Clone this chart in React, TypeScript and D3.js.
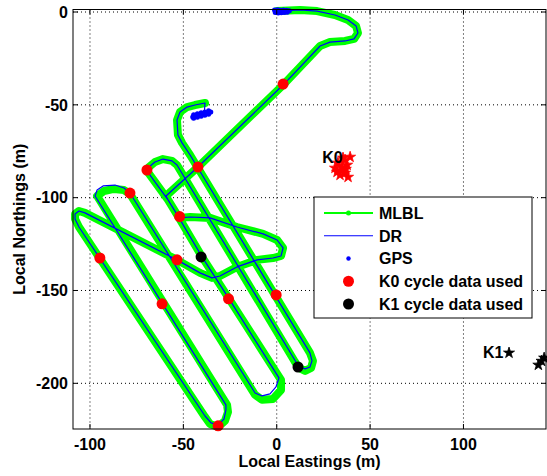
import * as d3 from "d3";

// MLBL navigation track, local eastings / northings (m)
const mlblEast = [-38.4, -43.8, -48.0, -51.8, -53.4, -52.9, -50.7, -46.4, 17.8, 19.4, 18.4, 15.2, 11.9, 9.8,
  -51.8, -53.4, -56.1, -60.9, -65.2, -68.4, -69.5, -58.2, -52.3, -46.4, -35.7, -21.3, -7.3, 0.2, 3.4, 2.3,
  -2.0, -10.5, -21.3, -30.4, -34.7, -41.1, -53.4, -102.7, -105.9, -108.0, -108.0, -105.9, -38.4, -35.7,
  -31.4, -27.7, -26.1, -26.6, -96.2, -92.5, -87.1, -81.8, -78.6, -11.6, -7.9, -2.0, 2.3, 2.3, -25.5,
  -40.0, -52.3, -58.2, -59.3, -42.2, 3.9, 23.2, 28.5, 36.6, 41.4, 43.5, 42.5, 38.2, 31.2, 21.6, 12.5, 0.2];
const mlblNorth = [-49.0, -50.1, -51.2, -53.9, -58.2, -66.2, -70.5, -77.0, -183.6, -187.9, -191.7, -193.3, -191.7, -188.5,
  -85.1, -82.4, -80.2, -79.2, -80.8, -83.5, -85.6, -101.2, -110.9, -110.4, -110.9, -115.8, -119.5, -122.8, -127.1, -131.4,
  -132.5, -133.5, -137.3, -142.2, -143.2, -140.5, -133.5, -108.2, -107.2, -108.8, -111.5, -115.8, -218.1, -221.9,
  -223.5, -220.2, -215.4, -211.6, -99.1, -96.4, -95.3, -95.9, -98.0, -206.2, -208.9, -208.4, -203.6, -198.2, -154.5,
  -131.9, -110.9, -101.2, -99.1, -83.5, -38.8, -18.3, -16.2, -15.6, -14.5, -11.3, -7.5, -4.3, -1.6, 0.5, 1.1, 0.5];

// dead reckoning track
const drEast = [-38.9, -38.4, -43.8, -48.0, -51.8, -53.4, -52.9, -50.7, -46.4, 17.8, 18.9, 17.8, 15.2, 12.5, 10.3,
  -51.8, -53.4, -56.1, -60.9, -65.2, -68.4, -69.5, -58.2, -52.3, -46.4, -35.7, -21.3, -7.3, 0.2, 3.4, 2.3,
  -2.0, -10.5, -21.3, -30.4, -34.7, -41.1, -53.4, -102.7, -105.9, -108.0, -108.0, -105.9, -38.4, -35.2,
  -31.4, -28.2, -27.2, -27.2, -97.3, -96.2, -93.0, -86.6, -81.8, -78.6, -11.6, -7.9, -3.6, -0.4, 1.2, -25.5,
  -40.0, -52.3, -58.2, -59.3, -42.2, 3.9, 23.2, 28.5, 36.6, 41.4, 43.5, 42.5, 38.2, 31.2, 21.6, 12.5, 0.2];
const drNorth = [-56.0, -49.0, -50.1, -51.2, -53.9, -58.2, -66.2, -70.5, -77.0, -183.6, -187.9, -191.2, -192.2, -191.2, -188.5,
  -85.1, -82.4, -80.2, -79.2, -80.8, -83.5, -85.6, -101.2, -110.9, -110.4, -110.9, -115.8, -119.5, -122.8, -127.1, -131.4,
  -132.5, -133.5, -137.3, -142.2, -143.2, -140.5, -133.5, -108.2, -107.2, -108.8, -111.5, -115.8, -217.6, -221.3,
  -222.4, -219.2, -214.3, -211.6, -99.1, -95.9, -93.7, -93.2, -94.8, -97.5, -205.2, -206.8, -205.7, -201.9, -197.1, -154.5,
  -131.9, -110.9, -101.2, -99.1, -83.5, -38.8, -18.3, -16.2, -15.6, -14.5, -11.3, -7.5, -4.3, -1.6, 0.5, 1.1, 0.5];

// GPS fixes (surface, start and end)
const gpsEast = [-1.2, -0.4, 0.4, 1.2, 2.0, 2.8, 3.6, 4.4, 5.2, 6.0, 6.8,
  -0.8, 0.0, 0.8, 1.6, 2.4, 3.2, 4.0, 4.8, 5.6,
  -45.0, -44.0, -43.0, -42.0, -41.0, -40.0, -39.0, -38.0, -37.0, -36.0, -35.3,
  -44.5, -42.5, -40.5, -38.5, -36.5, -44.5, -42.5, -40.5, -38.5, -36.5];
const gpsNorth = [1.1, 0.8, 1.2, 0.9, 1.0, 0.7, 1.1, 0.8, 0.9, 0.6, 0.7,
  -0.3, 0.1, -0.5, 0.0, -0.4, 0.2, -0.2, 0.1, -0.1,
  -56.5, -56.3, -56.0, -55.7, -55.4, -55.2, -54.9, -54.6, -54.4, -54.1, -53.9,
  -55.4, -54.8, -54.3, -53.8, -53.2, -57.2, -56.7, -56.2, -55.6, -55.1];

// fixes where K0 / K1 cycle data was used
const k0UsedEast = [3.4, -42.2, -69.5, -78.6, -52.0, -94.7, -53.4, -61.4, -25.8, -0.3, -31.4];
const k0UsedNorth = [-38.8, -83.5, -85.1, -97.5, -110.2, -132.5, -133.5, -157.2, -154.5, -152.4, -222.9];
const k1UsedEast = [-40.5, 11.4];
const k1UsedNorth = [-131.9, -191.2];

// beacon position estimates
const k0StarEast = [39.3, 36.6, 32.8, 31.2, 35.0, 36.6, 33.9, 38.2, 32.3, 37.7, 35.5, 34.2, 37.0];
const k0StarNorth = [-78.1, -79.7, -81.3, -84.0, -83.5, -86.7, -87.8, -88.9, -86.2, -82.4, -78.6, -85.2, -84.6];
const k1StarEast = [124.4, 140.1, 143.2, 141.8];
const k1StarNorth = [-183.6, -190.1, -186.3, -188.0];

const xTicks = [-100, -50, 0, 50, 100];
const yTicks = [0, -50, -100, -150, -200];
const legendLabels = ["MLBL", "DR", "GPS", "K0 cycle data used", "K1 cycle data used"];

const font = "'Liberation Sans', Arial, sans-serif";

export default function App() {
  const x = d3.scaleLinear().domain([-109.1, 144.2]).range([73, 546]);
  const y = d3.scaleLinear().domain([-224.6, 1.35]).range([429, 9.5]);
  const [x0, x1] = x.range();
  const [y0, y1] = y.range();

  const zip = (a: number[], b: number[]) => a.map((v, i) => [v, b[i]] as [number, number]);
  const line = d3.line<[number, number]>().x(d => x(d[0])).y(d => y(d[1]));
  const star = d3.symbol().type(d3.symbolStar).size(38)() as string;

  const mlbl = zip(mlblEast, mlblNorth);
  const dr = zip(drEast, drNorth);

  const lgX = 314, lgY = 197, lgW = 218, lgH = 121, rowH = 22.75;

  return (
    <svg width={547} height={476} style={{ position: "absolute", left: 0, top: 0, background: "#fff" }}
      fontFamily={font} fontWeight="bold" fontSize={16}>
      {/* grid */}
      {xTicks.map(t => (
        <line key={"gx" + t} x1={x(t)} x2={x(t)} y1={y1} y2={y0} stroke="#000" strokeWidth={1} strokeDasharray="1,3" />
      ))}
      {yTicks.map(t => (
        <line key={"gy" + t} x1={x0} x2={x1} y1={y(t)} y2={y(t)} stroke="#000" strokeWidth={1} strokeDasharray="1,3" />
      ))}

      <path d={line(mlbl) ?? ""} fill="none" stroke="#00ff00" strokeWidth={8} strokeLinejoin="round" strokeLinecap="round" />
      <path d={line(dr) ?? ""} fill="none" stroke="#0000ff" strokeWidth={1.2} strokeLinejoin="round" />

      {gpsEast.map((e, i) => (
        <circle key={"g" + i} cx={x(e)} cy={y(gpsNorth[i])} r={2.5} fill="#0000ff" />
      ))}
      {k0UsedEast.map((e, i) => (
        <circle key={"r" + i} cx={x(e)} cy={y(k0UsedNorth[i])} r={5.5} fill="#ff0000" />
      ))}
      {k1UsedEast.map((e, i) => (
        <circle key={"b" + i} cx={x(e)} cy={y(k1UsedNorth[i])} r={5.5} fill="#000" />
      ))}
      {k0StarEast.map((e, i) => (
        <path key={"s0" + i} d={star} transform={`translate(${x(e)},${y(k0StarNorth[i])})`} fill="#ff0000" stroke="#ff0000" strokeWidth={0.8} />
      ))}
      {k1StarEast.map((e, i) => (
        <path key={"s1" + i} d={star} transform={`translate(${x(e)},${y(k1StarNorth[i])})`} fill="#000" stroke="#000" strokeWidth={0.8} />
      ))}
      <text x={x(24.4)} y={y(-81.3)}>K0</text>
      <text x={x(110.5)} y={y(-186.3)}>K1</text>

      {/* axes box and ticks */}
      <rect x={x0} y={y1} width={x1 - x0} height={y0 - y1} fill="none" stroke="#000" strokeWidth={1} />
      {xTicks.map(t => (
        <g key={"tx" + t}>
          <line x1={x(t)} x2={x(t)} y1={y0} y2={y0 - 5} stroke="#000" />
          <line x1={x(t)} x2={x(t)} y1={y1} y2={y1 + 5} stroke="#000" />
          <text x={x(t)} y={450} textAnchor="middle">{t}</text>
        </g>
      ))}
      {yTicks.map(t => (
        <g key={"ty" + t}>
          <line x1={x0} x2={x0 + 5} y1={y(t)} y2={y(t)} stroke="#000" />
          <line x1={x1} x2={x1 - 5} y1={y(t)} y2={y(t)} stroke="#000" />
          <text x={68} y={y(t)} dy="0.36em" textAnchor="end">{t}</text>
        </g>
      ))}
      <text x={(x0 + x1) / 2} y={467} textAnchor="middle">Local Eastings (m)</text>
      <text transform={`translate(25,${(y0 + y1) / 2}) rotate(-90)`} textAnchor="middle">Local Northings (m)</text>

      {/* legend */}
      <rect x={lgX} y={lgY} width={lgW} height={lgH} fill="#fff" stroke="#000" strokeWidth={1} />
      {legendLabels.map((lab, i) => {
        const cy = lgY + 16 + i * rowH;
        return (
          <g key={lab}>
            {i === 0 && <>
              <line x1={324} x2={373} y1={cy} y2={cy} stroke="#00ff00" strokeWidth={2} />
              <circle cx={348.5} cy={cy} r={2.5} fill="#00ff00" />
            </>}
            {i === 1 && <line x1={324} x2={373} y1={cy} y2={cy} stroke="#0000ff" strokeWidth={1.2} />}
            {i === 2 && <circle cx={348.5} cy={cy} r={2.2} fill="#0000ff" />}
            {i === 3 && <circle cx={348.5} cy={cy} r={5.5} fill="#ff0000" />}
            {i === 4 && <circle cx={348.5} cy={cy} r={5.5} fill="#000" />}
            <text x={379} y={cy} dy="0.36em">{lab}</text>
          </g>
        );
      })}
    </svg>
  );
}
